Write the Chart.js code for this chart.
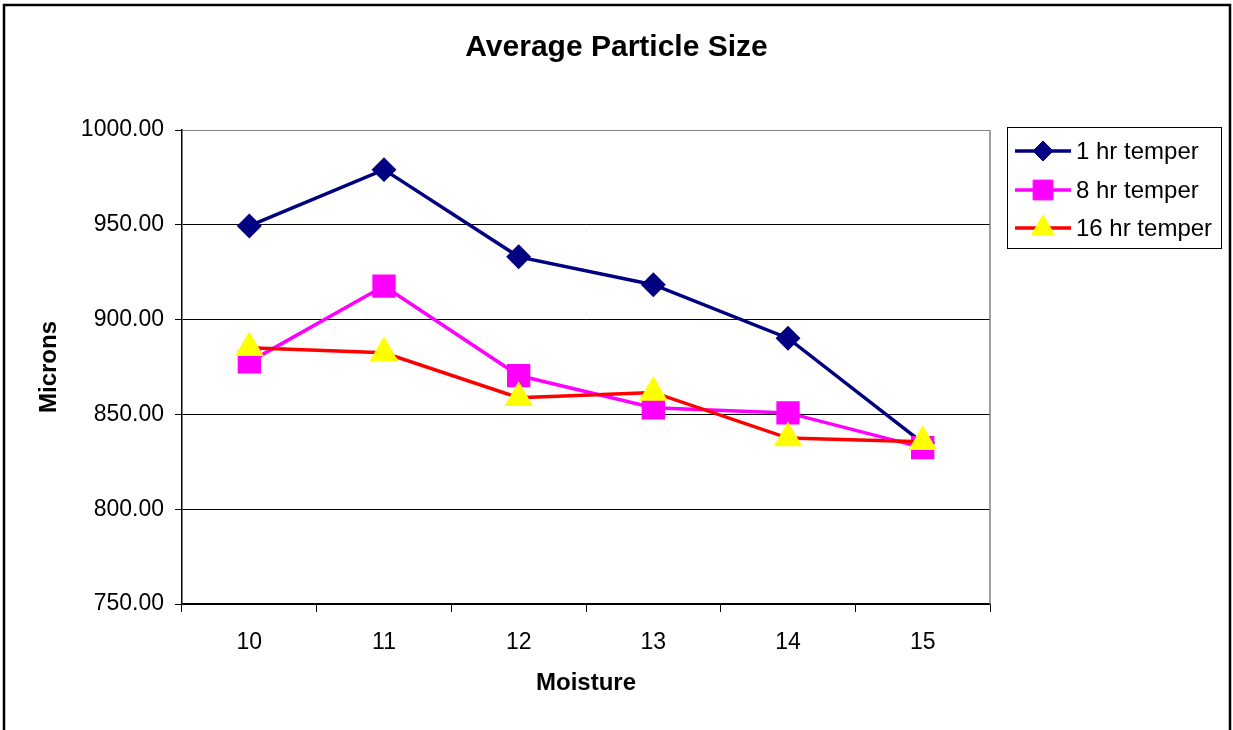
<!DOCTYPE html>
<html>
<head>
<meta charset="utf-8">
<script src="https://cdn.jsdelivr.net/npm/chart.js@4.4.1/dist/chart.umd.min.js"></script>
<style>
  body { margin: 0; background: #fff; }
  #wrap { width: 1233px; height: 730px; }
</style>
</head>
<body>
<div id="wrap"><canvas id="sizechart" width="1233" height="730"></canvas></div>
<script>
var moisture = ['10', '11', '12', '13', '14', '15'];
var temper1hr = [949.4, 979.1, 933.1, 918.4, 890.2, 835.0];
var temper8hr = [877.7, 917.7, 870.5, 853.5, 850.8, 832.5];
var temper16hr = [885.1, 882.5, 858.8, 861.6, 837.5, 835.6];
var yTicks = [750, 800, 850, 900, 950, 1000];

var FONT = "'Liberation Sans', Arial, sans-serif";

// plot border on the right, legend box and outer frame
var decorations = {
    id: 'decorations',
    beforeDatasetsDraw: function (chart) {
        var ctx = chart.ctx, a = chart.chartArea;
        ctx.save();
        ctx.strokeStyle = '#808080';
        ctx.lineWidth = 1.5;
        ctx.beginPath();
        ctx.moveTo(a.right, a.top);
        ctx.lineTo(a.right, a.bottom);
        ctx.stroke();
        ctx.restore();
    },
    afterDraw: function (chart) {
        var ctx = chart.ctx;
        ctx.save();
        // legend
        ctx.strokeStyle = '#000';
        ctx.lineWidth = 1;
        ctx.strokeRect(1007.5, 127.5, 214, 121);
        var rows = [151, 190, 228];
        chart.data.datasets.forEach(function (ds, i) {
            var y = rows[i];
            ctx.strokeStyle = ds.borderColor;
            ctx.lineWidth = 3.5;
            ctx.beginPath();
            ctx.moveTo(1015, y);
            ctx.lineTo(1071, y);
            ctx.stroke();
            ctx.fillStyle = ds.pointBackgroundColor;
            ctx.strokeStyle = ds.pointBorderColor;
            ctx.lineWidth = 1;
            Chart.helpers.drawPoint(ctx, {pointStyle: ds.pointStyle, radius: ds.pointRadius, rotation: 0, borderWidth: 1}, 1043, y);
            ctx.fillStyle = '#000';
            ctx.font = '24px ' + FONT;
            ctx.textBaseline = 'middle';
            ctx.textAlign = 'left';
            ctx.fillText(ds.label, 1076, y + 1);
        });
        // outer frame
        ctx.strokeStyle = '#000';
        ctx.lineWidth = 2.5;
        ctx.strokeRect(4, 5, 1226, 740);
        ctx.restore();
    }
};

var chart = new Chart(document.getElementById('sizechart'), {
    type: 'line',
    data: {
        labels: moisture,
        datasets: [{
            label: '1 hr temper',
            data: temper1hr,
            borderColor: '#000080',
            borderWidth: 3.5,
            pointStyle: 'rectRot',
            pointRadius: 10,
            pointBackgroundColor: '#000080',
            pointBorderColor: '#000080',
            order: 3
        }, {
            label: '8 hr temper',
            data: temper8hr,
            borderColor: '#FF00FF',
            borderWidth: 3.5,
            pointStyle: 'rect',
            pointRadius: 14,
            pointBackgroundColor: '#FF00FF',
            pointBorderColor: '#FF00FF',
            order: 2
        }, {
            label: '16 hr temper',
            data: temper16hr,
            borderColor: '#FF0000',
            borderWidth: 3.5,
            pointStyle: 'triangle',
            pointRadius: 13,
            pointBackgroundColor: '#FFFF00',
            pointBorderColor: '#FFFF00',
            order: 1
        }]
    },
    options: {
        responsive: false,
        animation: false,
        layout: { padding: 0 },
        elements: { line: { tension: 0 }, point: { borderWidth: 1, hoverRadius: 10 } },
        plugins: {
            legend: { display: false },
            tooltip: { enabled: false },
            title: {
                display: true,
                text: 'Average Particle Size',
                color: '#000',
                font: { family: FONT, size: 30, weight: 'bold', lineHeight: 1.2 },
                padding: { top: 30, bottom: 64 }
            }
        },
        scales: {
            x: {
                type: 'category',
                offset: true,
                afterFit: function (s) { s.height = 126; },
                grid: { offset: true, drawOnChartArea: false, drawTicks: true, tickLength: 8, color: '#000' },
                border: { color: '#000', width: 1.5 },
                ticks: { color: '#000', padding: 17, font: { family: FONT, size: 23 } },
                title: {
                    display: true,
                    text: 'Moisture',
                    color: '#000',
                    font: { family: FONT, size: 24, weight: 'bold', lineHeight: 1.2 },
                    padding: { bottom: 32 }
                }
            },
            y: {
                min: yTicks[0],
                max: yTicks[yTicks.length - 1],
                afterFit: function (s) { s.width = 182; },
                afterBuildTicks: function (s) { s.ticks = yTicks.map(function (v) { return { value: v }; }); },
                grid: {
                    color: function (c) { return c.tick && c.tick.value === 1000 ? '#808080' : '#000'; },
                    tickColor: '#000',
                    lineWidth: 1,
                    tickLength: 7
                },
                border: { color: '#000', width: 1.5 },
                ticks: {
                    color: '#000',
                    padding: 11,
                    font: { family: FONT, size: 23 },
                    callback: function (v) { return Number(v).toFixed(2); }
                },
                title: {
                    display: true,
                    text: 'Microns',
                    color: '#000',
                    font: { family: FONT, size: 24, weight: 'bold', lineHeight: 1.2 },
                    padding: { top: 35 }
                }
            },
            // empty space on the right that holds the legend box
            legendSpace: {
                type: 'linear',
                position: 'right',
                afterFit: function (s) { s.width = 243; },
                grid: { display: false },
                border: { display: false },
                ticks: { display: false }
            }
        }
    },
    plugins: [decorations]
});
</script>
</body>
</html>
